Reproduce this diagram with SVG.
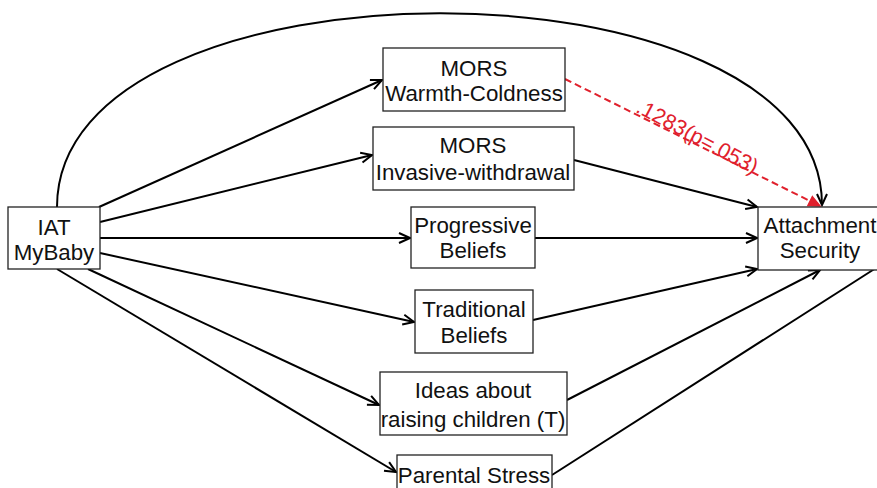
<svg xmlns="http://www.w3.org/2000/svg" width="877" height="488" viewBox="0 0 877 488">
<style>
.box{fill:#fff;stroke:#222;stroke-width:1.3}
.t{font-family:"Liberation Sans",Arial,sans-serif;font-size:22.3px;fill:#111;text-anchor:middle}
.e{fill:none;stroke:#000;stroke-width:2}
.r{fill:none;stroke:#e0202c;stroke-width:2;stroke-dasharray:7,4}
</style>
<defs>
<marker id="a" markerUnits="userSpaceOnUse" markerWidth="14" markerHeight="14" refX="12" refY="6" orient="auto" viewBox="0 0 14 12">
<path d="M1,1 L12,6 L1,11" fill="none" stroke="#000" stroke-width="2"/>
</marker>
<marker id="ar" markerUnits="userSpaceOnUse" markerWidth="14" markerHeight="14" refX="12" refY="6" orient="auto" viewBox="0 0 14 12">
<path d="M1,1 L12,6 L1,11 Z" fill="#e0202c" stroke="#e0202c" stroke-width="1.5"/>
</marker>
</defs>
<g id="connectors">
<path class="e" d="M57,207 C57,-51 822,-51 822,205" marker-end="url(#a)"/>
<line class="e" x1="99" y1="207" x2="382" y2="80" marker-end="url(#a)"/>
<line class="e" x1="100" y1="222" x2="372" y2="155" marker-end="url(#a)"/>
<line class="e" x1="100" y1="238" x2="410" y2="238" marker-end="url(#a)"/>
<line class="e" x1="100" y1="253" x2="414" y2="322" marker-end="url(#a)"/>
<line class="e" x1="88" y1="269" x2="379" y2="405" marker-end="url(#a)"/>
<line class="e" x1="57" y1="269" x2="396" y2="472" marker-end="url(#a)"/>
<line class="e" x1="574" y1="160" x2="757" y2="207" marker-end="url(#a)"/>
<line class="e" x1="535" y1="238" x2="757" y2="238" marker-end="url(#a)"/>
<line class="e" x1="533" y1="320" x2="757" y2="269" marker-end="url(#a)"/>
<line class="e" x1="567" y1="400" x2="820" y2="270" marker-end="url(#a)"/>
<line class="e" x1="552" y1="475" x2="876" y2="268"/>
<line class="r" x1="565" y1="79" x2="820" y2="206" marker-end="url(#ar)"/>
<text x="0" y="0" transform="translate(694,143) rotate(28)" style="font-family:'Liberation Sans',Arial,sans-serif;font-size:21.5px;fill:#e0202c;text-anchor:middle">.1283(p=.053)</text>
</g>
<g id="iat"><rect class="box" x="8" y="207" width="92" height="62"/><text class="t" x="54" y="235">IAT</text><text class="t" x="54" y="260">MyBaby</text></g>
<g id="mors-warmth"><rect class="box" x="383" y="48" width="182" height="63"/><text class="t" x="474" y="76">MORS</text><text class="t" x="474" y="101">Warmth-Coldness</text></g>
<g id="mors-invasive"><rect class="box" x="373" y="127" width="201" height="63"/><text class="t" x="473" y="153">MORS</text><text class="t" x="473" y="180">Invasive-withdrawal</text></g>
<g id="progressive"><rect class="box" x="411" y="207" width="124" height="61"/><text class="t" x="473" y="233">Progressive</text><text class="t" x="473" y="258">Beliefs</text></g>
<g id="traditional"><rect class="box" x="415" y="290" width="118" height="63"/><text class="t" x="474" y="317">Traditional</text><text class="t" x="474" y="343">Beliefs</text></g>
<g id="ideas"><rect class="box" x="380" y="372" width="187" height="63"/><text class="t" x="473" y="398">Ideas about</text><text class="t" x="473" y="427">raising children (T)</text></g>
<g id="stress"><rect class="box" x="397" y="455" width="155" height="40"/><text class="t" x="474" y="483">Parental Stress</text></g>
<g id="attachment"><rect class="box" x="758" y="207" width="125" height="63"/><text class="t" x="820" y="233">Attachment</text><text class="t" x="820" y="258">Security</text></g>
</svg>
